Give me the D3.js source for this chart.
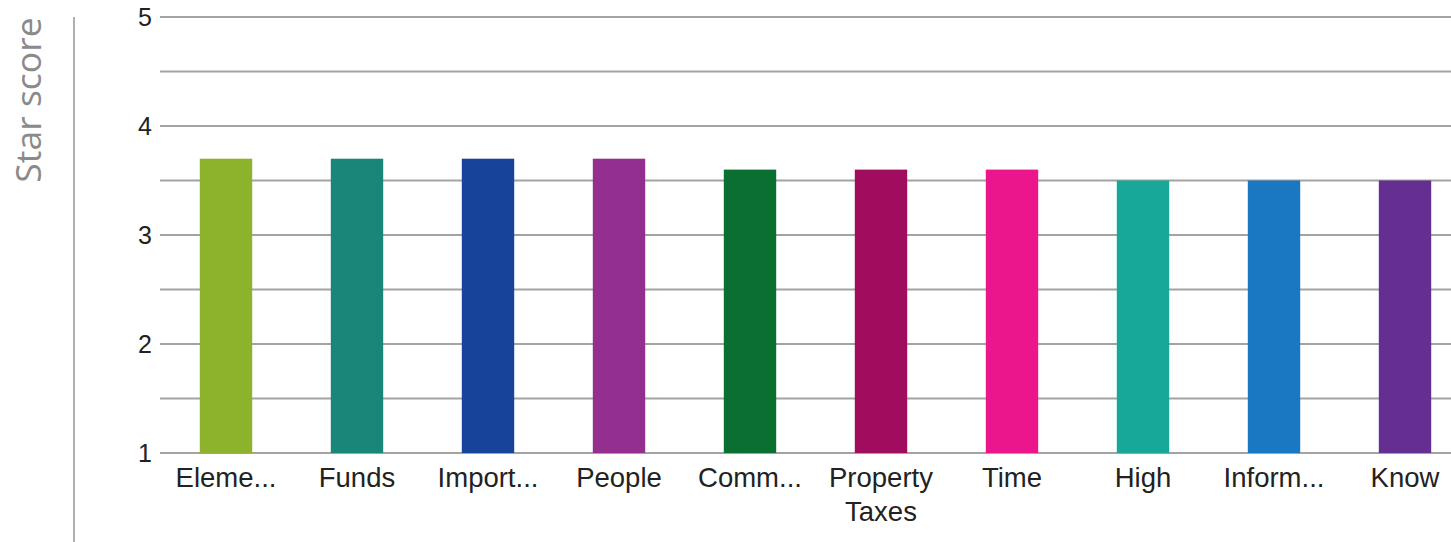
<!DOCTYPE html>
<html>
<head>
<meta charset="utf-8">
<script src="https://cdn.jsdelivr.net/npm/d3@7"></script>
<style>
html,body{margin:0;padding:0;background:#fff;overflow:hidden;}
</style>
</head>
<body>
<svg id="chart" width="1451" height="542"></svg>
<script>
const categories = ["Eleme...", "Funds", "Import...", "People", "Comm...", "Property Taxes", "Time", "High", "Inform...", "Know"];
const values = [3.7, 3.7, 3.7, 3.7, 3.6, 3.6, 3.6, 3.5, 3.5, 3.5];
const colors = ["#8db22c", "#1a867a", "#17439a", "#93308f", "#0b6f32", "#a00c5e", "#ec168c", "#17a89a", "#1a77c2", "#652e91"];
const yTicks = [1, 2, 3, 4, 5];
const yTitle = "Star score";

const svg = d3.select("#chart");
const x = d3.scaleBand().domain(categories).range([160.5, 1470.5]).paddingInner(0.6).paddingOuter(0.3);
const y = d3.scaleLinear().domain([1, 5]).range([453, 17]);

// gridlines every 0.5
const grid = d3.range(1, 5.01, 0.5);
svg.append("g").selectAll("line").data(grid).join("line")
  .attr("x1", 160).attr("x2", 1451)
  .attr("y1", d => y(d)).attr("y2", d => y(d))
  .attr("stroke", "#a3a3a3").attr("stroke-width", 2);

// bars
svg.append("g").selectAll("rect").data(categories).join("rect")
  .attr("x", d => x(d))
  .attr("width", x.bandwidth())
  .attr("y", (d, i) => y(values[i]))
  .attr("height", (d, i) => y(1) - y(values[i]))
  .attr("fill", (d, i) => colors[i]);

// y axis labels
const yAxis = d3.axisLeft(y).tickValues(yTicks).tickFormat(d3.format("d")).tickSize(0).tickPadding(0);
const yg = svg.append("g").attr("transform", "translate(152,0)").call(yAxis);
yg.select(".domain").remove();
yg.selectAll("text").attr("font-family", "Liberation Sans, Arial, sans-serif").attr("font-size", 25).attr("fill", "#222").attr("dy", "0.35em");

// x axis labels
const xAxis = d3.axisBottom(x).tickSize(0).tickPadding(0);
const xg = svg.append("g").attr("transform", "translate(0,467)").call(xAxis);
xg.select(".domain").remove();
xg.selectAll("text").attr("font-family", "Liberation Sans, Arial, sans-serif").attr("font-size", 27.5).attr("fill", "#222")
  .each(function(d) {
    const t = d3.select(this);
    const words = d.length > 10 && d.includes(" ") ? d.split(" ") : [d];
    t.text(null);
    words.forEach((w, i) => {
      t.append("tspan").attr("x", 0).attr("dy", i === 0 ? "0.71em" : "1.25em").text(w);
    });
  });

// left separator line
svg.append("line").attr("x1", 74).attr("x2", 74).attr("y1", 17).attr("y2", 542)
  .attr("stroke", "#b0b0b0").attr("stroke-width", 2);

// y title
svg.append("text")
  .attr("transform", "translate(41,100) rotate(-90)")
  .attr("text-anchor", "middle")
  .attr("font-family", "Open Sans, Noto Sans, sans-serif")
  .attr("font-size", 35.5)
  .attr("fill", "#8a8a8a")
  .text(yTitle);
</script>
</body>
</html>
